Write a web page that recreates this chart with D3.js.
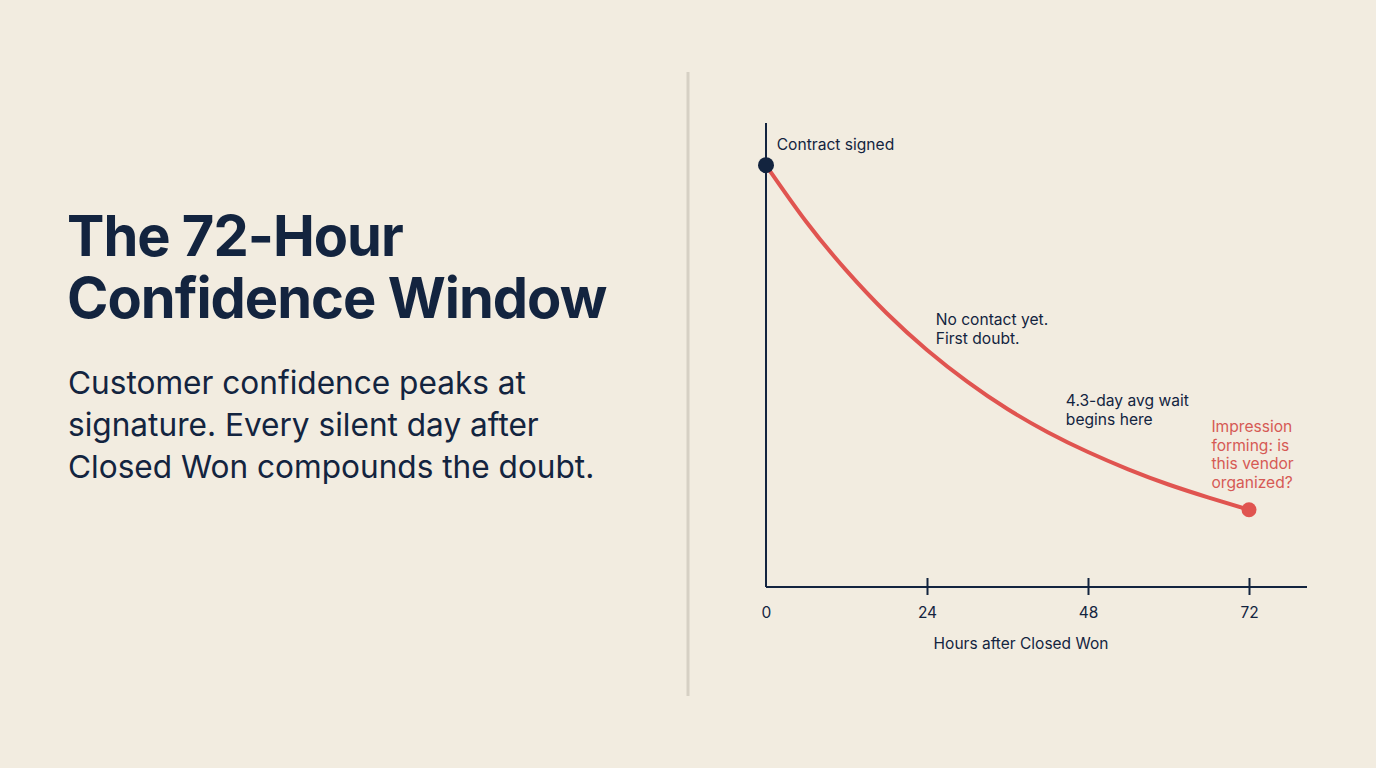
<!DOCTYPE html>
<html>
<head>
<meta charset="utf-8">
<script src="https://cdn.jsdelivr.net/npm/d3@7"></script>
<style>
  html, body { margin: 0; padding: 0; background: #f2ece0; }
  svg { display: block; }
  text { font-family: Inter, "Noto Sans", sans-serif; }
</style>
</head>
<body>
<svg id="chart" width="1376" height="768"></svg>
<script>
// ---- data ----
const hours = [0, 6, 12, 18, 24, 30, 36, 42, 48, 54, 60, 66, 72];
const confidence = [100, 86.6, 75, 64.9, 56.2, 48.7, 42.2, 36.7, 32, 27.9, 24.3, 21.2, 18.3];
const xTicks = [0, 24, 48, 72];
const xAxisTitle = "Hours after Closed Won";
const titleLines = ["The 72-Hour", "Confidence Window"];
const subtitleLines = ["Customer confidence peaks at", "signature. Every silent day after", "Closed Won compounds the doubt."];
// annotation anchors in data units (hour, confidence) for first text line
const annoHours = [1.6, 25.3, 44.7, 66.4];
const annoValues = [103.6, 62.1, 42.9, 36.7];
const annoLines = [
  ["Contract signed"],
  ["No contact yet.", "First doubt."],
  ["4.3-day avg wait", "begins here"],
  ["Impression", "forming: is", "this vendor", "organized?"]
];
const annoKinds = ["dark", "dark", "dark", "red"];

const navy = "#13243f";
const red = "#e05450";
const svg = d3.select("#chart");

svg.append("rect").attr("width", 1376).attr("height", 768).attr("fill", "#f2ece0");

// left text
const title = svg.append("text").attr("font-weight", 700)
  .attr("font-size", 56).attr("fill", navy).attr("letter-spacing", -1.0);
titleLines.forEach((t, i) => title.append("tspan").attr("x", 67).attr("y", 256 + i * 62).text(t));

const sub = svg.append("text").attr("font-size", 31.6).attr("fill", navy).attr("font-weight", 400);
subtitleLines.forEach((t, i) => sub.append("tspan").attr("x", 68).attr("y", 394 + i * 42).text(t));

// divider
svg.append("line").attr("x1", 688).attr("x2", 688).attr("y1", 72).attr("y2", 696)
  .attr("stroke", "#d6d0c4").attr("stroke-width", 3);

// scales
const x = d3.scaleLinear().domain([0, 72]).range([766, 1249]);
const y = d3.scaleLinear().domain([0, 110]).range([587, 123]);

// axes
svg.append("line").attr("x1", x(0)).attr("x2", x(0)).attr("y1", y(110)).attr("y2", y(0))
  .attr("stroke", navy).attr("stroke-width", 2);
svg.append("line").attr("x1", x(0)).attr("x2", 1307).attr("y1", y(0)).attr("y2", y(0))
  .attr("stroke", navy).attr("stroke-width", 2);

const xAxis = d3.axisBottom(x).tickValues(xTicks).tickSize(0).tickPadding(0);
const gx = svg.append("g").attr("transform", `translate(0,${y(0)})`).call(xAxis);
gx.select(".domain").remove();
gx.selectAll(".tick text").attr("y", 31).attr("dy", 0).attr("font-size", 15.5).attr("fill", navy)
  .attr("font-family", "Inter, sans-serif");
gx.selectAll(".tick").filter(d => d !== 0).append("line")
  .attr("y1", -9).attr("y2", 8).attr("stroke", navy).attr("stroke-width", 2);

svg.append("text").attr("x", 1021).attr("y", 649).attr("text-anchor", "middle")
  .attr("font-size", 15.5).attr("fill", navy).text(xAxisTitle);

// curve
const pts = hours.map((h, i) => [h, confidence[i]]);
const line = d3.line().x(d => x(d[0])).y(d => y(d[1])).curve(d3.curveNatural);
svg.append("path").datum(pts).attr("d", line).attr("fill", "none")
  .attr("stroke", red).attr("stroke-width", 4).attr("stroke-linecap", "round");

// end markers
svg.append("circle").attr("cx", x(hours[0])).attr("cy", y(confidence[0])).attr("r", 8).attr("fill", navy);
svg.append("circle").attr("cx", x(hours[hours.length - 1])).attr("cy", y(confidence[confidence.length - 1]))
  .attr("r", 7.5).attr("fill", red);

// annotations
annoLines.forEach((lines, k) => {
  const t = svg.append("text").attr("font-size", 15.6)
    .attr("fill", annoKinds[k] === "red" ? "#d65a55" : navy);
  lines.forEach((l, i) => t.append("tspan")
    .attr("x", x(annoHours[k])).attr("y", y(annoValues[k]) + i * 18.5).text(l));
});
</script>
</body>
</html>
